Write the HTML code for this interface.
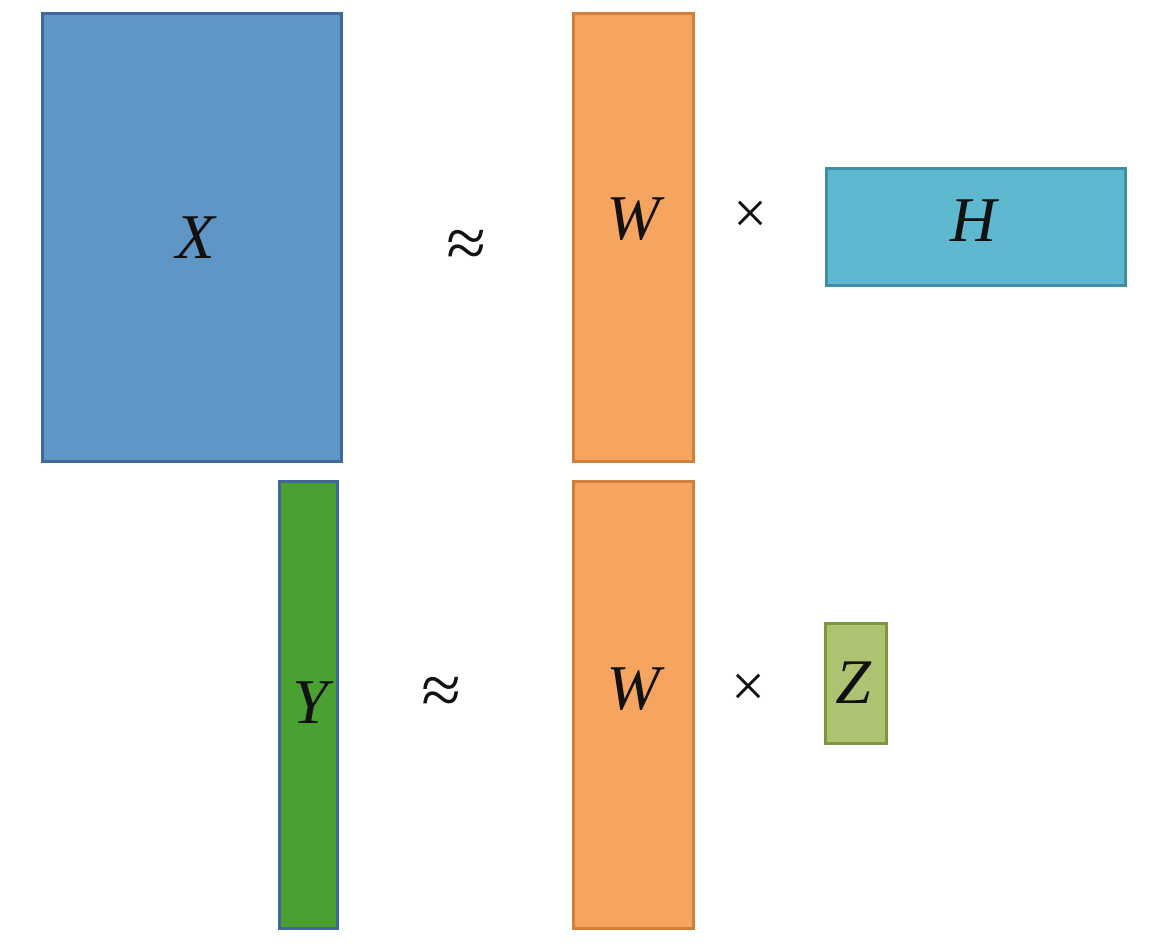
<!DOCTYPE html>
<html><head><meta charset="utf-8"><style>
html,body{margin:0;padding:0;background:#fff;width:1158px;height:952px;overflow:hidden;position:relative}
.b{position:absolute;box-sizing:border-box;border:3px solid}
.t{position:absolute;font-family:"Liberation Serif",serif;font-style:italic;font-size:64px;color:#111;transform:translate(-50%,-50%);line-height:1}
.s{position:absolute;font-family:"Liberation Serif",serif;color:#111;transform:translate(-50%,-50%);line-height:1}
</style></head><body>
<div class="b" style="left:41px;top:12px;width:302px;height:451px;background:#6096c6;border-color:#41689a"></div>
<div class="b" style="left:572px;top:12px;width:123px;height:451px;background:#f6a560;border-color:#d07f3c"></div>
<div class="b" style="left:825px;top:167px;width:302px;height:120px;background:#5db8d0;border-color:#3f8fa5"></div>
<div class="b" style="left:278px;top:480px;width:61px;height:450px;background:#4ba032;border-color:#41689a"></div>
<div class="b" style="left:572px;top:480px;width:123px;height:450px;background:#f6a560;border-color:#d07f3c"></div>
<div class="b" style="left:824px;top:622px;width:64px;height:123px;background:#adc372;border-color:#7f9640"></div>
<div class="t" style="left:195px;top:237px">X</div>
<div class="s" style="left:466px;top:243px;font-size:72px">≈</div>
<div class="t" style="left:633px;top:218px">W</div>
<div class="s" style="left:750px;top:213px;font-size:60px">×</div>
<div class="t" style="left:973px;top:220px">H</div>
<div class="t" style="left:310px;top:702px">Y</div>
<div class="s" style="left:441px;top:690px;font-size:72px">≈</div>
<div class="t" style="left:633px;top:688px">W</div>
<div class="s" style="left:748px;top:686px;font-size:60px">×</div>
<div class="t" style="left:853px;top:682px">Z</div>
</body></html>
